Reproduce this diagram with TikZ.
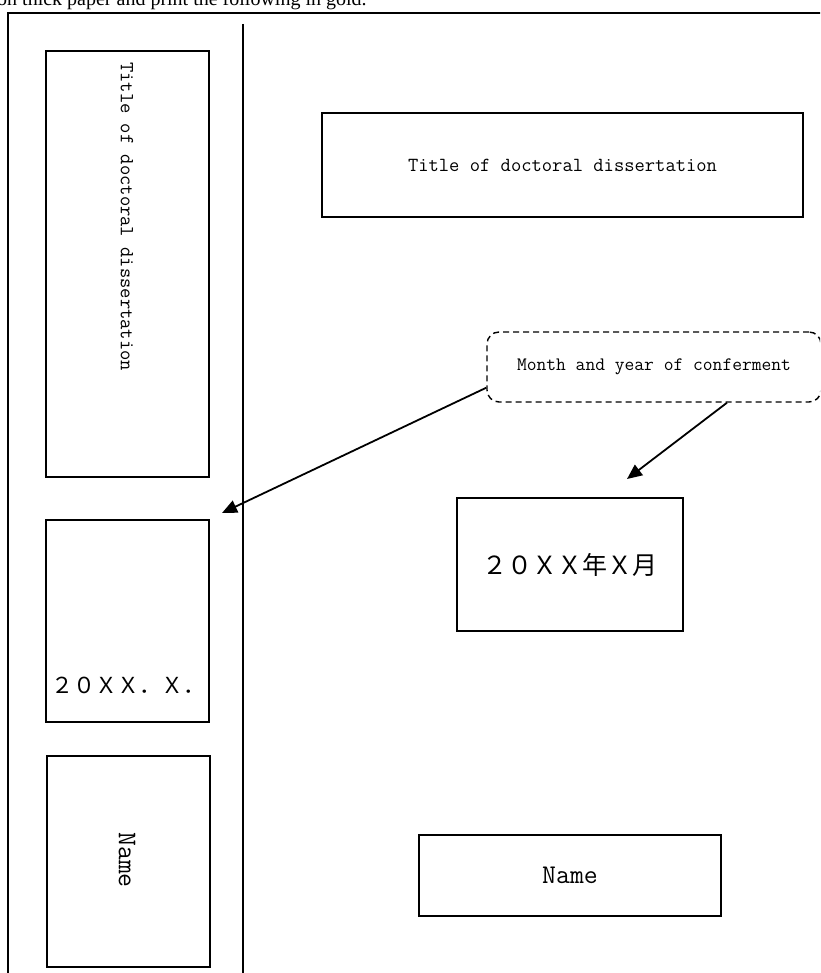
\documentclass[tikz,border=0pt]{standalone}
\usepackage{fontspec}
\usepackage{tikz}
\usetikzlibrary{arrows.meta}
\usetikzlibrary{positioning}
\newfontfamily\jpfont{Noto Sans CJK JP}
\newfontfamily\notefont{Liberation Serif}
\tikzstyle{frame} = [draw=black, line width=1.2pt]
\tikzstyle{box} = [rectangle, draw=black, line width=1.4pt, inner sep=0pt,
font=\ttfamily\fontsize{20}{20}\selectfont]
\tikzstyle{callout} = [box, dashed, dash pattern=on 6pt off 4pt,
rounded corners=12pt, font=\ttfamily\fontsize{19}{19}\selectfont]
\tikzstyle{label} = [inner sep=0pt, font=\ttfamily\fontsize{20}{20}\selectfont]
\tikzstyle{pointer} = [line width=1.8pt, -{Triangle[length=15pt,width=13pt]}]
\tikzset{
  every picture/.append style={x=1pt, y=-1pt}
}

\begin{document}
\begin{tikzpicture}
    \useasboundingbox (0,0) rectangle (820,973);
    \begin{scope}
    \clip (0,0) rectangle (820,973);
    \node[anchor=base west, inner sep=0pt, font=\notefont\fontsize{20}{20}\selectfont]
        (note) at (-3,6) {on thick paper and print the following in gold.};
    % spine side
    \draw[frame] (8,990) |- (830,13);
    \draw[frame] (243,24) -- (243,990);
    \node[box, minimum width=163pt, minimum height=426pt] (ltitle) at (127.5,264) {};
    \node[label, rotate=-90, anchor=west] (ltitletext) at (127,62) {Title of doctoral dissertation};
    \node[box, minimum width=163pt, minimum height=202pt] (ldate) at (127.5,621) {};
    \node[anchor=base west, inner sep=0pt, font=\jpfont\fontsize{22}{22}\selectfont]
        (ldatetext) at (51,693) {２０ＸＸ．Ｘ．};
    \node[box, minimum width=163pt, minimum height=211pt] (lname) at (128.5,861.5) {};
    \node[label, rotate=-90, font=\ttfamily\fontsize{27}{27}\selectfont] (lnametext) at (127,860) {Name};
    % cover side
    \node[box, minimum width=481pt, minimum height=104pt] (title) at (562.5,165) {Title of doctoral dissertation};
    \node[callout, minimum width=334pt, minimum height=70pt] (month) at (654,367) {Month and year of conferment};
    \node[box, minimum width=226pt, minimum height=133pt, font=\jpfont\fontsize{25}{25}\selectfont]
        (date) at (570,564.5) {２０ＸＸ年Ｘ月};
    \node[box, minimum width=302pt, minimum height=81pt, font=\ttfamily\fontsize{27}{27}\selectfont]
        (name) at (570,875.5) {Name};
    \coordinate (spinetip) at (222,513);
    \coordinate (covertip) at (627,479);
    \draw[pointer] ([yshift=15pt]month.south west) -- (spinetip);
    \draw[pointer] ([xshift=73pt]month.south) -- (covertip);
    \end{scope}
\end{tikzpicture}
\end{document}
